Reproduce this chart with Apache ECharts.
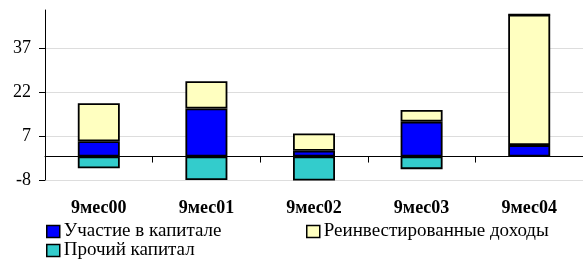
<!DOCTYPE html>
<html>
<head>
<meta charset="utf-8">
<script src="https://cdn.jsdelivr.net/npm/echarts@6/dist/echarts.min.js"></script>
<style>
  html, body { margin: 0; padding: 0; background: #fff; }
  #chart { width: 583px; height: 260px; }
</style>
</head>
<body>
<div id="chart"></div>
<script>
const categories = ['9мес00', '9мес01', '9мес02', '9мес03', '9мес04']
const equity = [5.2, 16.4, 2.0, 11.9, 3.9]        // Участие в капитале
const reinvested = [13.0, 9.3, 5.9, 4.0, 44.5]    // Реинвестированные доходы
const otherCapital = [-4.0, -8.0, -8.2, -4.3, 0]  // Прочий капитал

const serif = 'Liberation Serif'

const chart = echarts.init(document.getElementById('chart'))

function barSeries(name, data, color) {
  return {
    name: name,
    type: 'bar',
    stack: 'total',
    barWidth: 42,
    data: data,
    itemStyle: { color: color, borderColor: '#000', borderWidth: 1.8 },
    emphasis: { disabled: true }
  }
}

function legendItem(name, left, top) {
  return {
    data: [name],
    left: left,
    top: top,
    itemWidth: 13,
    itemHeight: 12,
    icon: 'rect',
    padding: 0,
    itemGap: 0,
    itemStyle: { borderColor: '#000', borderWidth: 1.5 },
    textStyle: { fontFamily: serif, fontSize: 19, color: '#000', padding: [0, 0, 0, -1] }
  }
}

chart.setOption({
  animation: false,
  grid: { left: 45, top: 10, width: 545, height: 170 },
  legend: [
    legendItem('Участие в капитале', 46, 222),
    legendItem('Реинвестированные доходы', 306, 222),
    legendItem('Прочий капитал', 46, 241)
  ],
  xAxis: [
    {
      type: 'category',
      data: categories,
      axisLine: { onZero: true, lineStyle: { color: '#000', width: 1 } },
      axisTick: { show: true, length: 6, inside: false, lineStyle: { color: '#000' } },
      axisLabel: { show: false }
    },
    {
      type: 'category',
      data: categories,
      position: 'bottom',
      axisLine: { show: false, onZero: false },
      axisTick: { show: false },
      axisLabel: { margin: 19, fontFamily: serif, fontSize: 18, fontWeight: 'bold', color: '#000' }
    }
  ],
  yAxis: {
    type: 'value',
    min: -8,
    max: 50,
    interval: 15,
    axisLine: { show: true, lineStyle: { color: '#000' } },
    axisTick: { show: true, length: 6, lineStyle: { color: '#000' } },
    axisLabel: {
      margin: 14,
      fontFamily: serif,
      fontSize: 18,
      color: '#000',
      showMaxLabel: false
    },
    splitLine: { show: true, showMaxLine: false, lineStyle: { color: '#ddd' } }
  },
  series: [
    barSeries('Участие в капитале', equity, '#0000ff'),
    barSeries('Реинвестированные доходы', reinvested, '#ffffc0'),
    barSeries('Прочий капитал', otherCapital, '#33cccc')
  ]
})
</script>
</body>
</html>
